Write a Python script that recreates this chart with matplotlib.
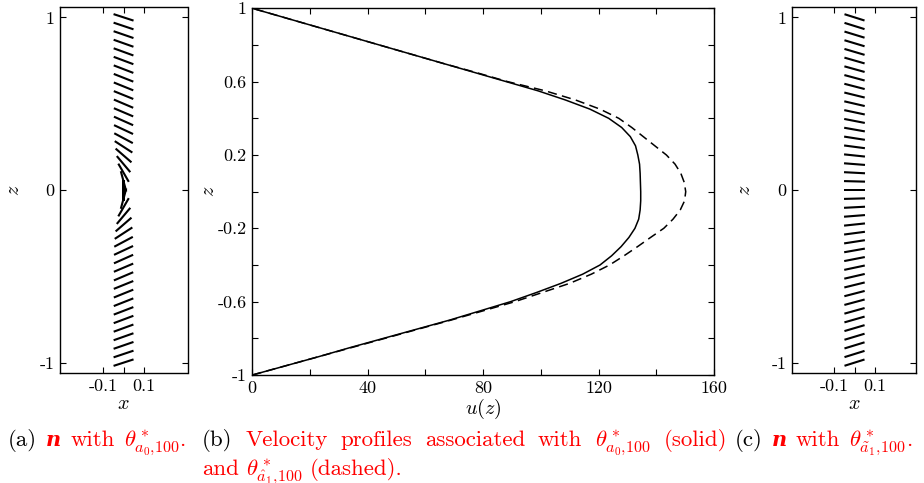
import numpy as np
import matplotlib
matplotlib.use("Agg")
import matplotlib.pyplot as plt

plt.rcParams['font.family'] = 'serif'
plt.rcParams['font.serif'] = ['cmr10']
plt.rcParams['mathtext.fontset'] = 'cm'
plt.rcParams['axes.unicode_minus'] = False
plt.rcParams['axes.formatter.use_mathtext'] = True

# ---- data ----
# director samples (z from -1 to 1, step 0.05) and their on-screen tilt in degrees
z_dir = np.linspace(-1, 1, 41)
theta_a = [18, 18.5, 19, 19.5, 20, 20.5, 21, 21.5, 22, 22, 23, 23, 24, 25, 28, 33,
           41, 50, 60, 75, 90,
           -75, -60, -50, -41, -33, -28, -25, -24, -23, -23, -22, -22, -21.5, -21,
           -20.5, -20, -19.5, -19, -18.5, -18]
theta_c = [17.5, 17.3, 17, 16.7, 16.4, 16, 15.5, 15, 14.5, 13.8, 13, 12, 11, 10,
           8.8, 7.5, 6, 4.5, 3, 1.5, 0,
           -1.5, -3, -4.5, -6, -7.5, -8.8, -10, -11, -12, -13, -13.8, -14.5, -15,
           -15.5, -16, -16.4, -16.7, -17, -17.3, -17.5]

# velocity profiles
z_u = [-1.0, -0.95, -0.9, -0.85, -0.8, -0.75, -0.7, -0.65, -0.6, -0.55, -0.5,
       -0.45, -0.4, -0.35, -0.3, -0.25, -0.2, -0.15, -0.1, -0.05, 0.0,
       0.05, 0.1, 0.15, 0.2, 0.25, 0.3, 0.35, 0.4, 0.45, 0.5, 0.55, 0.6, 0.65,
       0.7, 0.75, 0.8, 0.85, 0.9, 0.95, 1.0]
u_solid = [0, 11.5, 23, 34, 45.5, 57, 68.5, 79, 89.5, 98.5, 107, 114.5, 120.5,
           124.5, 127.8, 130.5, 132.6, 133.9, 134.4, 134.6, 134.6,
           134.5, 134.4, 134.2, 133.6, 132.8, 131, 128, 123.5, 117, 108.5, 99,
           88, 77, 66, 55, 44, 33, 22, 11, 0]
u_dashed = [0, 11.5, 23, 34.5, 46, 57.5, 69, 80, 91, 100.5, 110, 117.5, 123.8,
            128.8, 133.5, 138, 142.6, 145.8, 148.3, 149.8, 150.2,
            149.7, 148.5, 146.5, 143.5, 139.5, 135.5, 131.5, 127, 120.5, 112,
            101.5, 88.5, 77.5, 66, 55, 44, 33, 22, 11, 0]

W, H = 924, 483
fig = plt.figure(figsize=(W / 100, H / 100), dpi=100)

TICK_FS = 13
LABEL_FS = 14.5
FS = 16.5


def box(l, t, r, b):
    return [l / W, 1 - b / H, (r - l) / W, (b - t) / H]


def style(ax):
    ax.tick_params(direction='in', top=True, right=True, length=4, width=0.8,
                   labelsize=TICK_FS, pad=4)
    for s in ax.spines.values():
        s.set_linewidth(1.0)


def place_labels(ax, box_px, zlabel_x, xlabel_top):
    l, t, r, b = box_px
    ax.yaxis.set_label_coords((zlabel_x - l) / (r - l), 0.5)
    ax.xaxis.set_label_coords(0.5, -(xlabel_top - b) / (b - t))


def director(ax, theta, xlim, box_px, zlabel_x):
    th = np.radians(theta)
    L = 21
    ax.quiver(np.zeros_like(z_dir), z_dir, L * np.cos(th), L * np.sin(th),
              angles='uv', scale_units='dots', scale=1, units='dots', width=2.1,
              headwidth=0, headlength=0, headaxislength=0, pivot='mid', color='k')
    ax.set_xlim(*xlim)
    ax.set_ylim(-1.06, 1.06)
    ax.set_xticks([-0.1, 0, 0.1])
    ax.set_xticklabels(['-0.1', '', '0.1'])
    ax.set_yticks([-1, 0, 1])
    ax.set_yticklabels(['-1', '0', '1'])
    ax.set_xlabel('$x$', fontsize=LABEL_FS)
    ax.set_ylabel('$z$', fontsize=LABEL_FS)
    place_labels(ax, box_px, zlabel_x, 395)
    style(ax)


box_a = (60, 7, 187.5, 373)
box_b = (252.3, 8.3, 714, 375)
box_c = (792, 7, 916, 373)

ax1 = fig.add_axes(box(*box_a))
director(ax1, theta_a, (-0.31, 0.312), box_a, 23)

ax3 = fig.add_axes(box(*box_c))
director(ax3, theta_c, (-0.305, 0.3), box_c, 754)

ax2 = fig.add_axes(box(*box_b))
ax2.plot(u_solid, z_u, color='k', lw=1.1)
ax2.plot(u_dashed, z_u, color='k', lw=1.1, dashes=(6, 3.5))
ax2.set_xlim(0, 160)
ax2.set_ylim(-1, 1)
ax2.set_xticks(np.arange(0, 161, 20))
ax2.set_xticklabels(['0', '', '40', '', '80', '', '120', '', '160'])
ax2.set_yticks(np.linspace(-1, 1, 11))
ax2.set_yticklabels(['-1', '', '-0.6', '', '-0.2', '', '0.2', '', '0.6', '', '1'])
ax2.set_xlabel('$u(z)$', fontsize=LABEL_FS)
ax2.set_ylabel('$z$', fontsize=LABEL_FS)
place_labels(ax2, box_b, 218, 397)
style(ax2)

# ---- captions ----
renderer = fig.canvas.get_renderer()
bold_n = dict(family='DejaVu Serif', weight='bold', style='italic', fontsize=15)


def caption(words, x0, y, x1=None, gap=9):
    drawn = []
    for word in words:
        parts = []
        for s, c, kw in word:
            kw = dict(kw)
            kw.setdefault('fontsize', FS)
            t = fig.text(0, 1 - y / H, s, color=c, va='baseline', ha='left', **kw)
            parts.append((t, t.get_window_extent(renderer).width))
        drawn.append(parts)
    widths = [sum(w for _, w in p) for p in drawn]
    if x1 is not None and len(drawn) > 1:
        gap = (x1 - x0 - sum(widths)) / (len(drawn) - 1)
    x = x0
    for parts, wsum in zip(drawn, widths):
        xx = x
        for t, w in parts:
            t.set_x(xx / W)
            xx += w
        x += wsum + gap


R, K = 'red', 'black'
th_a0 = r'$\theta^*_{a_0{,}100}$'
th_hat = r'$\theta^*_{\hat{a}_1{,}100}$'
th_til = r'$\theta^*_{\tilde{a}_1{,}100}$'

caption([[('(a)', K, {})], [('n', R, bold_n)], [('with', R, {})],
         [(th_a0, R, {}), ('.', R, {})]], 8, 446)
caption([[('(b)', K, {})], [('Velocity', R, {})], [('profiles', R, {})],
         [('associated', R, {})], [('with', R, {})], [(th_a0, R, {})],
         [('(solid)', R, {})]], 202, 446, x1=727)
caption([[('and', R, {})], [(th_hat, R, {})], [('(dashed).', R, {})]], 202, 475,
        gap=7)
caption([[('(c)', K, {})], [('n', R, bold_n)], [('with', R, {})],
         [(th_til, R, {}), ('.', R, {})]], 735, 446)

fig.savefig('out.png', dpi=100)
